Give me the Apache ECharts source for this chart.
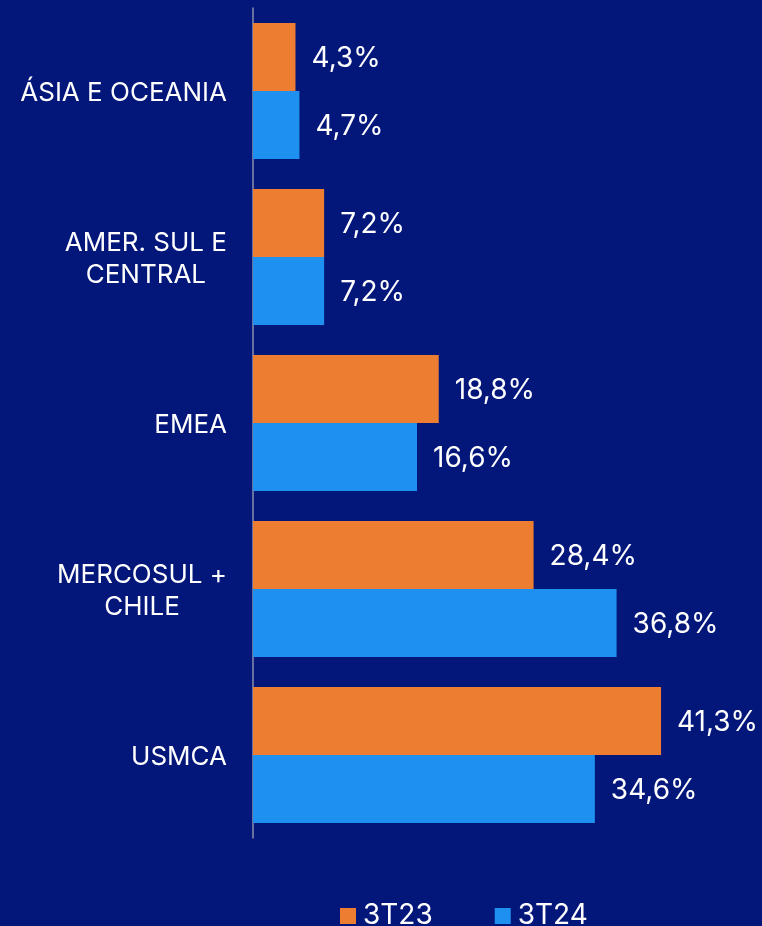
<!DOCTYPE html>
<html>
<head>
<meta charset="utf-8">
<script src="https://cdn.jsdelivr.net/npm/echarts@6/dist/echarts.min.js"></script>
<style>
  html, body { margin: 0; padding: 0; background: #03177a; }
  #chart { width: 762px; height: 926px; }
</style>
</head>
<body>
<div id="chart"></div>
<script>
  // regions, top to bottom
  const categories = ['ÁSIA E OCEANIA', 'AMER. SUL E\nCENTRAL', 'EMEA', 'MERCOSUL +\nCHILE', 'USMCA']
  const seriesNames = ['3T23', '3T24']
  const values3T23 = [4.3, 7.2, 18.8, 28.4, 41.3]
  const values3T24 = [4.7, 7.2, 16.6, 36.8, 34.6]

  const chart = echarts.init(document.getElementById('chart'))

  const fontFamily = 'Inter, Roboto, sans-serif'
  const pct = p => p.value.toFixed(1).replace('.', ',') + '%'

  function barSeries(name, data, color) {
    return {
      name: name,
      type: 'bar',
      data: data,
      barCategoryGap: '18%',
      barGap: '0%',
      itemStyle: { color: color },
      label: {
        show: true,
        position: 'right',
        distance: 16,
        offset: [0, 2],
        color: '#ffffff',
        fontSize: 28,
        fontFamily: fontFamily,
        formatter: pct
      },
      animation: false
    }
  }

  chart.setOption({
    backgroundColor: '#03177a',
    grid: {
      left: 253,
      right: 15,
      top: 8,
      bottom: 88,
      containLabel: false
    },
    legend: {
      data: seriesNames,
      left: 335,
      top: 897,
      itemWidth: 16,
      itemHeight: 16,
      itemGap: 62,
      icon: 'rect',
      textStyle: {
        color: '#ffffff',
        fontSize: 28,
        fontFamily: fontFamily,
        padding: [0, 0, 0, 2]
      }
    },
    xAxis: {
      type: 'value',
      min: 0,
      max: 50,
      show: false
    },
    yAxis: {
      type: 'category',
      inverse: true,
      data: categories,
      axisLine: {
        show: true,
        lineStyle: { color: '#8a90ad', width: 1.5 }
      },
      axisTick: { show: false },
      axisLabel: {
        margin: 26,
        color: '#ffffff',
        fontSize: 26,
        fontFamily: fontFamily,
        lineHeight: 32,
        padding: [4, 0, 0, 0],
        formatter: v => v.split('\n').map(s => '{c|' + s + '}').join('\n'),
        rich: {
          c: {
            align: 'center',
            color: '#ffffff',
            fontSize: 26,
            fontFamily: fontFamily,
            lineHeight: 32
          }
        }
      }
    },
    series: [
      barSeries(seriesNames[0], values3T23, '#ed7d31'),
      barSeries(seriesNames[1], values3T24, '#1e90f0')
    ]
  })
</script>
</body>
</html>
